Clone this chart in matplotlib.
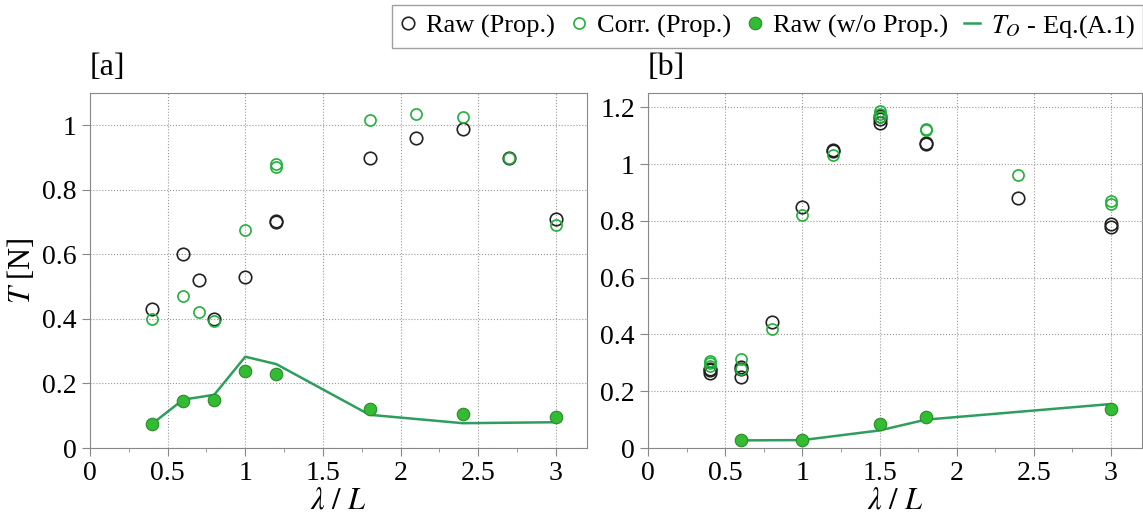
import numpy as np
import matplotlib
matplotlib.use("Agg")
import matplotlib.pyplot as plt
from matplotlib.lines import Line2D
from matplotlib.ticker import MultipleLocator

plt.rcParams['font.family'] = ['Liberation Serif', 'DejaVu Serif']
plt.rcParams['mathtext.fontset'] = 'stix'

# panel a
a_raw_x = [0.4, 0.6, 0.7, 0.8, 1.0, 1.2, 1.2, 1.8, 2.1, 2.4, 2.7, 3.0]
a_raw_y = [0.43, 0.60, 0.52, 0.40, 0.53, 0.70, 0.705, 0.90, 0.96, 0.99, 0.90, 0.71]
a_corr_x = [0.4, 0.6, 0.7, 0.8, 1.0, 1.2, 1.2, 1.8, 2.1, 2.4, 2.7, 3.0]
a_corr_y = [0.40, 0.47, 0.42, 0.395, 0.675, 0.87, 0.88, 1.015, 1.035, 1.025, 0.90, 0.69]
a_nop_x = [0.4, 0.6, 0.8, 1.0, 1.2, 1.8, 2.4, 3.0]
a_nop_y = [0.075, 0.145, 0.15, 0.24, 0.23, 0.12, 0.105, 0.095]
a_to_x = [0.4, 0.6, 0.8, 1.0, 1.2, 1.8, 2.4, 3.0]
a_to_y = [0.075, 0.15, 0.165, 0.283, 0.26, 0.103, 0.077, 0.08]

# panel b
b_raw_x = [0.4, 0.4, 0.4, 0.6, 0.6, 0.6, 0.8, 1.0, 1.2, 1.2, 1.5, 1.5, 1.5,
           1.8, 1.8, 2.4, 3.0, 3.0]
b_raw_y = [0.265, 0.275, 0.28, 0.25, 0.28, 0.285, 0.445, 0.85, 1.05, 1.045,
           1.145, 1.16, 1.17, 1.07, 1.075, 0.88, 0.78, 0.79]
b_corr_x = [0.4, 0.4, 0.4, 0.6, 0.6, 0.8, 1.0, 1.2, 1.5, 1.5, 1.5, 1.8, 1.8,
            2.4, 3.0, 3.0]
b_corr_y = [0.29, 0.30, 0.305, 0.28, 0.315, 0.42, 0.82, 1.03, 1.165, 1.185,
            1.175, 1.12, 1.125, 0.96, 0.86, 0.87]
b_nop_x = [0.6, 1.0, 1.5, 1.8, 3.0]
b_nop_y = [0.03, 0.03, 0.085, 0.11, 0.137]
b_to_x = [0.6, 1.0, 1.5, 1.8, 3.0]
b_to_y = [0.027, 0.028, 0.062, 0.10, 0.155]

c_open = '#22b03c'
c_fill = '#33bb33'
c_line = '#2e9e5e'

fig = plt.figure(figsize=(11.43, 5.15), dpi=100)
ax_a = fig.add_axes([0.0787, 0.130, 0.4349, 0.6894])
ax_b = fig.add_axes([0.567, 0.130, 0.432, 0.6894])

panels = [
    (ax_a, a_raw_x, a_raw_y, a_corr_x, a_corr_y, a_nop_x, a_nop_y, a_to_x, a_to_y, 1.1, '[a]'),
    (ax_b, b_raw_x, b_raw_y, b_corr_x, b_corr_y, b_nop_x, b_nop_y, b_to_x, b_to_y, 1.25, '[b]'),
]

for ax, rx, ry, cx, cy, nx, ny, tx, ty, ymax, tag in panels:
    ax.plot(tx, ty, color=c_line, lw=1.8, zorder=3)
    ax.plot(nx, ny, 'o', ms=9, mfc=c_fill, mec='#2a8a2a', mew=0.8, zorder=4)
    ax.plot(rx, ry, 'o', ms=9, mfc='none', mec='#222222', mew=1.2, zorder=4)
    ax.plot(cx, cy, 'o', ms=8, mfc='none', mec=c_open, mew=1.2, zorder=4)
    ax.set_xlim(0, 3.2)
    ax.set_ylim(0, ymax)
    ax.xaxis.set_major_locator(MultipleLocator(0.5))
    ax.xaxis.set_minor_locator(MultipleLocator(0.25))
    ax.yaxis.set_major_locator(MultipleLocator(0.2))
    ax.xaxis.set_major_formatter(plt.FuncFormatter(lambda v, p: f'{v:g}'))
    ax.yaxis.set_major_formatter(plt.FuncFormatter(lambda v, p: f'{v:g}'))
    ax.grid(True, which='major', color='#999999', ls=':', lw=0.8)
    ax.tick_params(which='both', direction='out', color='#888888', labelsize=20)
    ax.tick_params(which='major', length=6)
    ax.tick_params(which='minor', length=3)
    for s in ax.spines.values():
        s.set_color('#888888')
    ax.set_xlabel(r'$\lambda\ /\ L$', fontsize=22, labelpad=0)
    ax.text(0.0, 1.03, tag, transform=ax.transAxes, fontsize=23, va='bottom')

ax_a.set_ylabel(r'$T$ [N]', fontsize=22, labelpad=4)

handles = [
    Line2D([], [], ls='none', marker='o', ms=9, mfc='none', mec='#222222', mew=1.2),
    Line2D([], [], ls='none', marker='o', ms=8, mfc='none', mec=c_open, mew=1.2),
    Line2D([], [], ls='none', marker='o', ms=9, mfc=c_fill, mec='#2a8a2a', mew=0.8),
    Line2D([], [], color=c_line, lw=1.8),
]
labels = ['Raw (Prop.)', 'Corr. (Prop.)', 'Raw (w/o Prop.)', r'$T_O$ - Eq.(A.1)']
fig.legend(handles, labels, loc='upper right', bbox_to_anchor=(1.0, 0.99), ncol=4,
           fontsize=19, frameon=True, fancybox=False, edgecolor='#888888',
           handlelength=0.6, handletextpad=0.4, columnspacing=0.6,
           borderpad=0.3, borderaxespad=0.0)

fig.savefig('out.png', dpi=100)
